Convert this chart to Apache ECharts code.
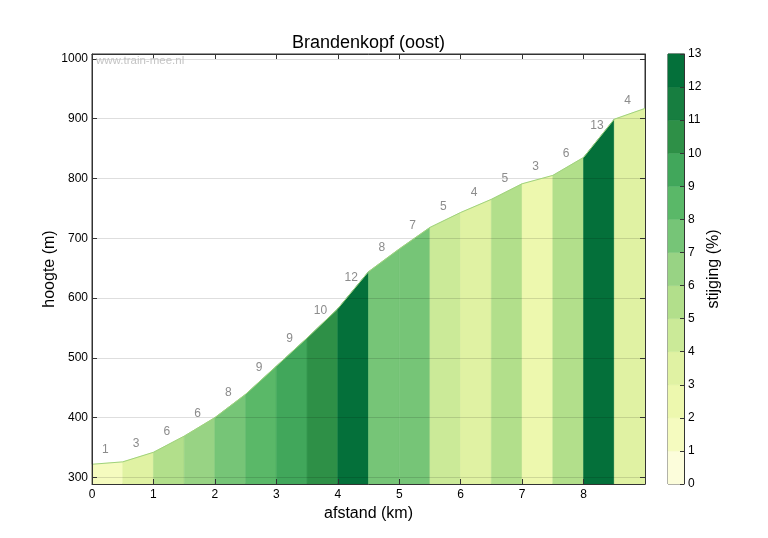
<!DOCTYPE html>
<html>
<head>
<meta charset="utf-8">
<script src="https://cdn.jsdelivr.net/npm/echarts@6/dist/echarts.min.js"></script>
<style>html,body{margin:0;padding:0;background:#fff;}#c{width:768px;height:538px;}</style>
</head>
<body>
<div id="c"></div>
<script>
// ---- data ----
const distance = [0, 0.5, 1, 1.5, 2, 2.5, 3, 3.5, 4, 4.5, 5, 5.5, 6, 6.5, 7, 7.5, 8, 8.5, 9];
const elevation = [322, 326, 342, 369, 400, 439, 486, 533, 582, 644, 682, 718, 743, 765, 791, 805, 835, 899, 917];
const gradient = [1.2, 3.2, 5.6, 6.2, 7.8, 8.8, 9.2, 10.2, 12.2, 7.8, 7.2, 4.8, 3.8, 5.2, 2.8, 5.8, 12.8, 3.8];
const yTicks = [300, 400, 500, 600, 700, 800, 900, 1000];
const xTicks = [0, 1, 2, 3, 4, 5, 6, 7, 8];
const cbLevels = [0, 1, 2, 3, 4, 5, 6, 7, 8, 9, 10, 11, 12];
const titleText = 'Brandenkopf (oost)';
const xName = 'afstand (km)';
const yName = 'hoogte (m)';
const cbName = 'stijging (%)';
const watermark = 'www.train-mee.nl';

// ---- style ----
const palette = ['#fcfddb','#f5fbbf','#edf8ae','#e0f2a3','#cbea98','#b2df8b','#98d384','#76c577','#5ab868','#41a75b','#2e9047','#177e40','#04703a'];
const FONT = 'Liberation Sans, Arial, Helvetica, sans-serif';
const Y_MIN = 289, Y_MAX = 1008;

const segData = [];
for (let i = 0; i < gradient.length; i++) {
  segData.push([distance[i], distance[i + 1], elevation[i], elevation[i + 1], gradient[i]]);
}
const lineData = distance.map((d, i) => [d, elevation[i]]);

function bandColor(g) {
  const b = Math.max(0, Math.min(palette.length - 1, Math.floor(g)));
  return palette[b];
}

const chart = echarts.init(document.getElementById('c'), null, {renderer: 'canvas'});
const axisLineStyle = {color: '#333', width: 1};
const tickStyle = {color: '#333', width: 1};
const plain = v => String(v);

const option = {
  backgroundColor: '#fff',
  animation: false,
  textStyle: {fontFamily: FONT},
  grid: [
    {left: 92, top: 54, width: 553, height: 430, show: true, borderColor: '#333', borderWidth: 1, backgroundColor: 'transparent'},
    {left: 668, top: 54, width: 16, height: 430, show: true, borderColor: '#333', borderWidth: 1}
  ],
  xAxis: [
    {gridIndex: 0, type: 'value', min: 0, max: 9, position: 'bottom', z: 10,
     axisLine: {show: true, onZero: false, lineStyle: axisLineStyle},
     axisTick: {show: true, inside: true, length: 5, lineStyle: tickStyle, customValues: xTicks},
     axisLabel: {show: true, color: '#000', fontSize: 12, fontFamily: FONT, margin: 5, customValues: xTicks, formatter: plain},
     splitLine: {show: false},
     name: xName, nameLocation: 'middle', nameGap: 19,
     nameTextStyle: {fontSize: 16, color: '#000', fontFamily: FONT}},
    {gridIndex: 0, type: 'value', min: 0, max: 9, position: 'top', z: 10,
     axisLine: {show: true, onZero: false, lineStyle: axisLineStyle},
     axisTick: {show: true, inside: true, length: 5, lineStyle: tickStyle, customValues: xTicks},
     axisLabel: {show: false}, splitLine: {show: false}},
    {gridIndex: 1, type: 'value', min: 0, max: 1, show: false}
  ],
  yAxis: [
    {gridIndex: 0, type: 'value', min: Y_MIN, max: Y_MAX, position: 'left', z: 10,
     axisLine: {show: true, onZero: false, lineStyle: axisLineStyle},
     axisTick: {show: true, inside: true, length: 5, lineStyle: tickStyle, customValues: yTicks},
     axisLabel: {show: true, color: '#000', fontSize: 12, fontFamily: FONT, margin: 4, customValues: yTicks, formatter: plain},
     splitLine: {show: false},
     name: yName, nameLocation: 'middle', nameGap: 34, nameRotate: 90, nameMoveOverlap: false,
     nameTextStyle: {fontSize: 16, color: '#000', fontFamily: FONT}},
    {gridIndex: 0, type: 'value', min: Y_MIN, max: Y_MAX, position: 'right', z: 10,
     axisLine: {show: true, onZero: false, lineStyle: axisLineStyle},
     axisTick: {show: true, inside: true, length: 5, lineStyle: tickStyle, customValues: yTicks},
     axisLabel: {show: false}, splitLine: {show: false}},
    {gridIndex: 1, type: 'value', min: 0, max: 13, interval: 1, position: 'right', z: 10,
     axisLine: {show: true, onZero: false, lineStyle: axisLineStyle},
     axisTick: {show: true, inside: true, length: 4, lineStyle: tickStyle},
     axisLabel: {show: true, color: '#000', fontSize: 12, fontFamily: FONT, margin: 4, formatter: plain},
     splitLine: {show: false},
     name: cbName, nameLocation: 'middle', nameGap: 22, nameRotate: 90,
     nameTextStyle: {fontSize: 16, color: '#000', fontFamily: FONT}}
  ],
  graphic: [
    {type: 'text', left: 96, top: 55, z: 50, silent: true,
     style: {text: watermark, fill: '#c4c4c4', font: '11.5px ' + FONT}},
    {type: 'text', x: 368.5, y: 43, z: 50, silent: true,
     style: {text: titleText, fill: '#000', font: '18px ' + FONT, align: 'center', verticalAlign: 'middle'}}
  ],
  series: [
    {
      type: 'custom', xAxisIndex: 0, yAxisIndex: 0, z: 1, silent: true,
      data: segData,
      renderItem: function (params, api) {
        const x0 = api.value(0), x1 = api.value(1), y0 = api.value(2), y1 = api.value(3), g = api.value(4);
        const p0 = api.coord([x0, Y_MIN]);
        const p1 = api.coord([x0, y0]);
        const p2 = api.coord([x1, y1]);
        const p3 = api.coord([x1, Y_MIN]);
        const col = bandColor(g);
        return {
          type: 'group',
          children: [
            {type: 'polygon', shape: {points: [p0, p1, p2, p3]},
             style: {fill: col, stroke: col, lineWidth: 0.6}},
            {type: 'text', z2: 20,
             x: (p1[0] + p2[0]) / 2 - 2, y: (p1[1] + p2[1]) / 2 - 13,
             style: {text: String(Math.round(g)), fill: '#8c8c8c', font: '12px ' + FONT, align: 'center', verticalAlign: 'middle'}}
          ]
        };
      },
      markLine: {
        silent: true, symbol: ['none', 'none'], z: 3,
        label: {show: false},
        lineStyle: {color: 'rgba(0,0,0,0.13)', width: 1, type: 'solid'},
        data: yTicks.map(v => ({yAxis: v}))
      }
    },
    {
      type: 'line', xAxisIndex: 0, yAxisIndex: 0, z: 4, silent: true,
      data: lineData, symbol: 'none',
      lineStyle: {color: '#9fd27c', width: 1}
    },
    {
      type: 'custom', xAxisIndex: 2, yAxisIndex: 2, z: 0, silent: true,
      data: cbLevels.map(v => [v]),
      renderItem: function (params, api) {
        const lv = api.value(0);
        const a = api.coord([0, lv + 1]);
        const b = api.coord([1, lv]);
        return {type: 'rect', shape: {x: a[0], y: a[1], width: b[0] - a[0], height: b[1] - a[1]},
                style: {fill: palette[lv], stroke: palette[lv], lineWidth: 0.5}};
      }
    }
  ]
};
chart.setOption(option);
</script>
</body>
</html>
